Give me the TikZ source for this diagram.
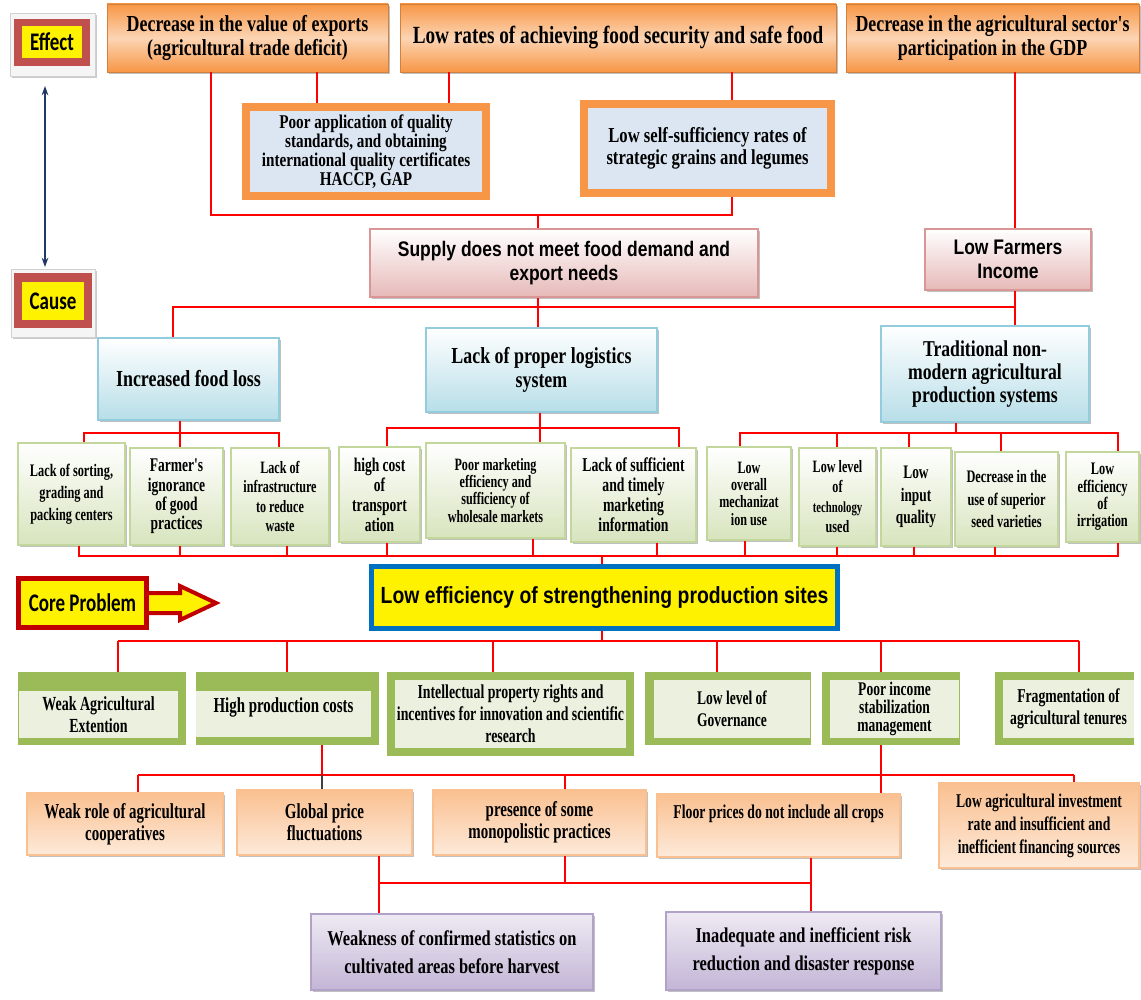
\documentclass[tikz,border=0pt]{standalone}
\usepackage{fontspec}
\usetikzlibrary{shadows,arrows.meta}
\newfontfamily\serW{Liberation Serif}[FakeStretch=0.78]
\newfontfamily\serN{Liberation Serif}[FakeStretch=0.70]
\newfontfamily\sanC{Liberation Sans}[FakeStretch=0.83]
\newfontfamily\calC{Carlito}[FakeStretch=0.75]
\newcommand\fs[2]{\fontsize{#1}{#2}\selectfont}
\definecolor{orgD}{HTML}{F79646}
\definecolor{orgL}{HTML}{FCD5B4}
\definecolor{qblue}{HTML}{DCE6F2}
\definecolor{pinkB}{HTML}{E6B9B8}
\definecolor{pinkD}{HTML}{D99694}
\definecolor{bluB}{HTML}{B7DEE8}
\definecolor{bluD}{HTML}{93CDDD}
\definecolor{grnB}{HTML}{D7E4BD}
\definecolor{grnD}{HTML}{C3D69B}
\definecolor{oliveG}{HTML}{9BBB59}
\definecolor{grnL}{HTML}{EBF1DE}
\definecolor{pchD}{HTML}{FAC090}
\definecolor{pchL}{HTML}{FDEADA}
\definecolor{purL}{HTML}{EEEAF3}
\definecolor{purD}{HTML}{C3B5D6}
\definecolor{purB}{HTML}{B3A2C7}
\definecolor{labR}{HTML}{C0504D}
\definecolor{coreB}{HTML}{0070C0}
\definecolor{darkR}{HTML}{C00000}
\definecolor{navyA}{HTML}{1F3864}
\newcommand\Bx[7]{\node[#6,minimum width={(#4-#2)*0.75pt},minimum height={(#5-#3)*0.75pt}] (#1) at ({(#2+#4)/2},{(#3+#5)/2}) {#7};}
\tikzset{
 shd/.style={drop shadow={shadow xshift=1.6pt,shadow yshift=-1.6pt,fill=black!45,opacity=.55}},
 base/.style={rectangle,inner sep=1pt,align=center,text=black},
 topb/.style={base,top color=orgD,bottom color=orgD,middle color=orgL,draw=orgD!85!black,line width=0.6pt,shd,font=\serW\bfseries\fs{17.2}{17.4}},
 midq/.style={base,fill=qblue,draw=orgD,line width=5.5pt,drop shadow={shadow xshift=2pt,shadow yshift=-2pt,fill=black!30,opacity=.5}},
 pinkb/.style={base,top color=white,bottom color=pinkB,draw=pinkD,line width=0.8pt,shd,font=\sanC\bfseries\fs{15.8}{18}},
 blub/.style={base,top color=white,bottom color=bluB,draw=bluD,line width=0.8pt,shd,font=\serW\bfseries\fs{17.2}{17.6}},
 grnb/.style={base,top color=white,bottom color=grnB,draw=grnD,line width=0.8pt,shd,font=\serN\bfseries},
 olvO/.style={base,fill=oliveG},
 olvI/.style={base,fill=grnL,font=\serN\bfseries\fs{15}{16.5}},
 pchb/.style={base,top color=pchD,bottom color=pchL,draw=pchD,line width=0.8pt,shd,font=\serN\bfseries\fs{16}{16.5}},
 purb/.style={base,top color=purL,bottom color=purD,draw=purB,line width=0.8pt,shd,font=\serW\bfseries\fs{15.8}{21}},
 labF/.style={base,fill=black!4,draw=black!18,line width=0.5pt,drop shadow={shadow xshift=1.2pt,shadow yshift=-1.5pt,fill=black!35,opacity=.6}},
 labO/.style={base,fill=labR},
 labI/.style={base,fill=yellow,font=\calC\bfseries\fs{19}{20}},
 coreb/.style={base,fill=yellow,draw=coreB,line width=3.8pt,shd,font=\sanC\bfseries\fs{17.5}{19}},
 rthin/.style={draw=red,line width=0.9pt},
 rmid/.style={draw=red,line width=1.6pt},
 rthick/.style={draw=red,line width=2.2pt},
}
\begin{document}
\begin{tikzpicture}[x=0.75pt,y=-0.75pt]
\useasboundingbox (0,0) rectangle (1141,999);
% ---- labels
\Bx{effF}{10}{13}{95}{76}{labF}{}
\Bx{effO}{14}{19}{90}{66}{labO}{}
\Bx{eff}{22}{26}{82}{58}{labI}{Effect}
\Bx{cauF}{11}{269}{95}{337}{labF}{}
\Bx{cauO}{14}{273}{92}{328}{labO}{}
\Bx{cau}{22}{282}{84}{320}{labI}{Cause}
\coordinate (a1) at (45,86);
\coordinate (a2) at (45,267);
\draw[navyA,line width=1.1pt,{Stealth[length=7pt,width=5pt]}-{Stealth[length=7pt,width=5pt]}] (a1) -- (a2);
% core problem arrow label
\draw[fill=yellow,draw=darkR,line width=3pt,line join=miter] (140,593) -- (180,593) -- (180,586) -- (216,603) -- (180,620) -- (180,613) -- (140,613) -- cycle;
\node[base,fill=yellow,draw=darkR,line width=4pt,minimum width={128*0.75pt},minimum height={49*0.75pt},font=\calC\bfseries\fs{19}{20},drop shadow={shadow xshift=1.5pt,shadow yshift=-1.5pt,fill=black!30,opacity=.5}] (cpl) at (82.5,603) {Core Problem};
% ---- effects
\Bx{t1}{107}{4}{388}{72}{topb}{Decrease in the value of exports\\(agricultural trade deficit)}
\Bx{t2}{400}{4}{836}{72}{topb,font=\serW\bfseries\fs{18.5}{18.5}}{Low rates of achieving food security and safe food}
\Bx{t3}{846}{4}{1139}{72}{topb}{Decrease in the agricultural sector's\\participation in the GDP}
\Bx{qa}{246}{107}{486}{196}{midq,font=\serW\bfseries\fs{14.6}{14.3}}{Poor application of quality\\standards, and obtaining\\international quality certificates\\HACCP, GAP}
\Bx{qb}{584}{104}{831}{193}{midq,font=\serW\bfseries\fs{16}{16.3}}{Low self-sufficiency rates of\\strategic grains and legumes}
% ---- causes
\Bx{sup}{370}{229}{758}{297}{pinkb}{Supply does not meet food demand and\\export needs}
\Bx{lfi}{925}{229}{1091}{290}{pinkb}{Low Farmers\\Income}
\Bx{bl}{98}{338}{279}{420}{blub}{Increased food loss}
\Bx{bg}{426}{328}{657}{412}{blub,font=\serW\bfseries\fs{17.2}{18}}{Lack of proper logistics\\system}
\Bx{bt}{881}{326}{1089}{422}{blub,font=\serW\bfseries\fs{17}{17}}{Traditional non-\\modern agricultural\\production systems}
% small boxes
\Bx{s1}{18}{443}{125}{545}{grnb,font=\serN\bfseries\fs{13.2}{16.5}}{Lack of sorting,\\grading and\\packing centers}
\Bx{s2}{130}{448}{223}{545}{grnb,font=\serN\bfseries\fs{14.5}{14.6}}{Farmer's\\ignorance\\of good\\practices}
\Bx{s3}{231}{448}{329}{545}{grnb,font=\serN\bfseries\fs{13}{14.3}}{Lack of\\infrastructure\\to reduce\\waste}
\Bx{s4}{339}{447}{420}{542}{grnb,font=\serN\bfseries\fs{14.5}{15}}{high cost\\of\\transport\\ation}
\Bx{s5}{426}{443}{565}{538}{grnb,font=\serN\bfseries\fs{13}{12.8}}{Poor marketing\\efficiency and\\sufficiency of\\wholesale markets}
\Bx{s6}{571}{448}{696}{542}{grnb,font=\serN\bfseries\fs{14.7}{15}}{Lack of sufficient\\and timely\\marketing\\information}
\Bx{s7}{707}{447}{791}{540}{grnb,font=\serN\bfseries\fs{13}{13}}{Low\\overall\\mechanizat\\ion use}
\Bx{s8}{799}{448}{876}{546}{grnb,font=\serN\bfseries\fs{13}{15}}{Low level\\of\\{\fs{11.5}{15}technology}\\used}
\Bx{s9}{881}{448}{951}{546}{grnb,font=\serN\bfseries\fs{14.3}{17}}{Low\\input\\quality}
\Bx{s10}{955}{452}{1058}{546}{grnb,font=\serN\bfseries\fs{13.2}{17}}{Decrease in the\\use of superior\\seed varieties}
\Bx{s11}{1066}{452}{1139}{542}{grnb,font=\serN\bfseries\fs{13.2}{13}}{Low\\efficiency\\of\\irrigation}
% core
\Bx{core}{371.5}{566.5}{837.5}{628.5}{coreb}{Low efficiency of strengthening production sites}
% green framed
\Bx{g1}{18}{672}{186}{745}{olvO}{}
\Bx{g1i}{19}{691}{178}{738}{olvI}{Weak Agricultural\\Extention}
\Bx{g2}{196}{672}{379}{745}{olvO}{}
\Bx{g2i}{196}{691}{371}{737}{olvI,font=\serN\bfseries\fs{16}{16.5}}{High production costs\\[-3pt]\mbox{}}
\Bx{g3}{387}{672}{634}{756}{olvO}{}
\Bx{g3i}{395}{680}{626}{748}{olvI,font=\serN\bfseries\fs{14.8}{16.5}}{Intellectual property rights and\\incentives for innovation and scientific\\research}
\Bx{g4}{645}{672}{811}{745}{olvO}{}
\Bx{g4i}{654}{680}{810}{738}{olvI,font=\serN\bfseries\fs{14.5}{16.5}}{Low level of\\Governance}
\Bx{g5}{822}{672}{960}{745}{olvO}{}
\Bx{g5i}{830}{680}{959}{738}{olvI,font=\serN\bfseries\fs{14.5}{13.8}}{Poor income\\stabilization\\management}
\Bx{g6}{995}{672}{1134}{745}{olvO}{}
\Bx{g6i}{1003}{680}{1134}{738}{olvI,font=\serN\bfseries\fs{14.7}{16.5}}{Fragmentation of\\agricultural tenures}
% peach
\Bx{p1}{27}{793}{223}{855}{pchb}{Weak role of agricultural\\cooperatives}
\Bx{p2}{237}{790}{412}{855}{pchb}{Global price\\fluctuations}
\Bx{p3}{433}{790}{646}{855}{pchb}{presence of some\\monopolistic practices}
\Bx{p4}{657}{794}{900}{857}{pchb,font=\serN\bfseries\fs{14.7}{16.5}}{Floor prices do not include all crops\\[4pt]\mbox{}}
\Bx{p5}{939}{783}{1139}{868}{pchb,font=\serN\bfseries\fs{14.6}{17.3}}{Low agricultural investment\\rate and insufficient and\\inefficient financing sources}
% purple
\Bx{v1}{311}{914}{593}{990}{purb}{Weakness of confirmed statistics on\\cultivated areas before harvest}
\Bx{v2}{666}{912}{941}{990}{purb}{Inadequate and inefficient risk\\reduction and disaster response}
% ---- connectors: effects
\coordinate (c1) at (211,215);
\coordinate (c2) at (732,215);
\coordinate (c3) at (538,215);
\coordinate (c4) at (317,0);
\coordinate (c5) at (449,0);
\coordinate (c7) at (1015,0);
\draw[rthick] (t1.south -| c1) -- (c1) -- (c2) -- (qb.south -| c2);
\draw[rthick] (c3) -- (sup.north -| c3);
\draw[rthick] (t1.south -| c4) -- (qa.north -| c4);
\draw[rthick] (t2.south -| c5) -- (qa.north -| c5);
\draw[rthick] (t2.south -| c2) -- (qb.north -| c2);
\draw[rthick] (t3.south -| c7) -- (lfi.north -| c7);
% causes
\coordinate (d1) at (173,307);
\coordinate (d2) at (1015,307);
\draw[rthick] (bl.north -| d1) -- (d1) -- (d2);
\draw[rthick] (sup.south -| c3) -- (bg.north -| c3);
\draw[rthick] (lfi.south -| c7) -- (bt.north -| c7);
% food loss group
\coordinate (f1) at (84,433);
\coordinate (f2) at (180,433);
\coordinate (f3) at (279,433);
\draw[rthin] (s1.north -| f1) -- (f1) -- (f3) -- (s3.north -| f3);
\draw[rthin] (bl.south -| f2) -- (s2.north -| f2);
% logistics group
\coordinate (h1) at (387,428);
\coordinate (h2) at (540,428);
\coordinate (h3) at (679,428);
\draw[rthin] (s4.north -| h1) -- (h1) -- (h3) -- (s6.north -| h3);
\draw[rthin] (bg.south -| h2) -- (s5.north -| h2);
% traditional group
\coordinate (k0) at (956,433);
\coordinate (k1) at (740,433);
\coordinate (k2) at (837,433);
\coordinate (k3) at (909,433);
\coordinate (k4) at (1001,433);
\coordinate (k5) at (1118,433);
\draw[rthin] (s7.north -| k1) -- (k1) -- (k5) -- (s11.north -| k5);
\draw[rthin] (k2) -- (s8.north -| k2);
\draw[rthin] (k3) -- (s9.north -| k3);
\draw[rthin] (k4) -- (s10.north -| k4);
\draw[rthick] (bt.south -| k0) -- (k0);
% bottom of small boxes
\coordinate (m0) at (602,556);
\coordinate (m1) at (79,556);
\coordinate (m2) at (180,556);
\coordinate (m3) at (287,556);
\coordinate (m4) at (387,556);
\coordinate (m5) at (533,556);
\coordinate (m6) at (657,556);
\coordinate (m7) at (745,556);
\coordinate (m8) at (837,556);
\coordinate (m9) at (914,556);
\coordinate (m10) at (995,556);
\coordinate (m11) at (1118,556);
\draw[rmid] (s1.south -| m1) -- (m1) -- (m11) -- (s11.south -| m11);
\draw[rthin] (s2.south -| m2) -- (m2);
\draw[rthin] (s3.south -| m3) -- (m3);
\draw[rthin] (s4.south -| m4) -- (m4);
\draw[rthin] (s5.south -| m5) -- (m5);
\draw[rthin] (s6.south -| m6) -- (m6);
\draw[rthin] (s7.south -| m7) -- (m7);
\draw[rthin] (s8.south -| m8) -- (m8);
\draw[rthin] (s9.south -| m9) -- (m9);
\draw[rthin] (s10.south -| m10) -- (m10);
\draw[rthick] (m0) -- (core.north -| m0);
% below core
\coordinate (n0) at (602,641);
\coordinate (n1) at (118,641);
\coordinate (n2) at (287,641);
\coordinate (n3) at (493,641);
\coordinate (n4) at (717,641);
\coordinate (n5) at (881,641);
\coordinate (n6) at (1079,641);
\draw[rthick] (core.south -| n0) -- (n0);
\draw[rthick] (n1) -- (n6);
\draw[rthin] (n1) -- (g1.north -| n1);
\draw[rthin] (n2) -- (g2.north -| n2);
\draw[rthin] (n3) -- (g3.north -| n3);
\draw[rthin] (n4) -- (g4.north -| n4);
\draw[rthin] (n5) -- (g5.north -| n5);
\draw[rthin] (n6) -- (g6.north -| n6);
% production level
\coordinate (o1) at (138,775);
\coordinate (o2) at (322,775);
\coordinate (o3) at (565,775);
\coordinate (o4) at (881,775);
\coordinate (o5) at (1074,775);
\draw[rthick] (o1) -- (o5);
\draw[rthin] (g2.south -| o2) -- (o2);
\draw[draw=black!75,line width=0.9pt] (o2) -- (p2.north -| o2);
\draw[rthin] (g5.south -| o4) -- (p4.north -| o4);
\draw[rthin] (o1) -- (p1.north -| o1);
\draw[rthin] (o3) -- (p3.north -| o3);
\draw[rthin] (o5) -- (p5.north -| o5);
% bottom
\coordinate (q1) at (379,883);
\coordinate (q2) at (565,883);
\coordinate (q3) at (811,883);
\draw[rthin] (p2.south -| q1) -- (v1.north -| q1);
\draw[rthin] (p3.south -| q2) -- (q2);
\draw[rthin] (p4.south -| q3) -- (v2.north -| q3);
\draw[rthick] (q1) -- (q3);
\end{tikzpicture}
\end{document}
